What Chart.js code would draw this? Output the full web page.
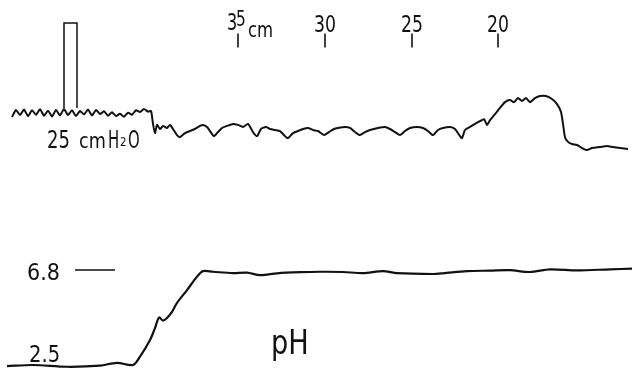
<!DOCTYPE html>
<html><head><meta charset="utf-8">
<script src="https://cdn.jsdelivr.net/npm/chart.js@4.4.1/dist/chart.umd.min.js"></script>
<style>html,body{margin:0;padding:0;background:#fff}canvas{display:block}</style>
</head><body>
<canvas id="c" width="632" height="370"></canvas>
<script>
// Pressure trace (time in recorder units, pressure in cmH2O relative to initial baseline)
const timeP = [12,16,20,24,28,32,36,40,44,48,52,56,60,64,68,72,76,80,84,88,92,96,100,104,108,112,116,120,124,128,132,136,140,144,148,151,
 153,155,157,160,163,167,170,173,177,180,185,190,195,200,203,207,210,214,218,222,227,233,238,243,248,253,257,261,266,270,275,280,285,288,293,298,303,308,313,318,324,329,334,338,345,350,355,360,365,370,378,385,390,395,400,405,410,417,423,428,433,438,443,450,455,460,462,465,470,475,480,484,487,490,495,500,505,510,514,518,522,526,530,535,540,546,552,557,561,563,565,568,572,577,582,587,592,600,607,613,620,628];
const pressure = [-1.2,0.9,-0.6,1.0,-0.9,0.8,-0.5,1.1,-0.8,0.7,-1.0,0.9,-0.7,1.2,-0.6,0.8,-0.9,0.6,-0.4,1.0,-0.7,0.9,-0.3,0.5,-0.8,0.2,-0.9,-0.2,-1.1,0.1,-0.5,0.8,0.3,1.2,0.4,0.6,
 -3.2,-5.9,-3.5,-4.7,-3.8,-4.4,-3.5,-4.7,-6.5,-7.1,-5.9,-5.3,-4.7,-3.8,-3.5,-4.1,-5.3,-6.8,-5.6,-4.4,-3.8,-3.2,-3.5,-4.1,-3.2,-5.6,-6.8,-4.7,-4.1,-4.7,-5.0,-5.3,-6.8,-7.4,-5.9,-5.3,-4.7,-4.4,-5.0,-5.3,-6.5,-5.6,-4.7,-4.4,-4.1,-4.4,-5.6,-6.5,-5.6,-5.0,-4.4,-4.1,-4.7,-5.6,-6.5,-5.3,-4.4,-4.1,-4.4,-5.3,-6.5,-5.0,-4.4,-4.1,-4.7,-6.8,-7.4,-5.0,-4.1,-3.2,-2.4,-1.8,-3.5,-2.1,-0.3,1.5,3.2,3.8,3.2,4.4,3.5,4.4,3.2,4.4,5.0,5.0,4.1,2.6,0.3,-3.2,-7.1,-8.5,-9.1,-9.4,-10.3,-10.9,-10.3,-10.0,-9.7,-10.0,-10.3,-10.6];

// Calibration bar: 25 cmH2O
const calTime = [64,64,77,77];
const calPressure = [1.5,26.5,26.5,1.5];

// Depth markers (cm)
const depthLabels = ['35','30','25','20'];
const depthTime = [238,325,412,498];

// pH trace
const timePH = [7,33,67,100,117,133,140,150,155,159,163,167,172,177,187,197,203,213,233,247,260,277,300,320,343,363,383,397,433,443,467,490,510,530,550,577,610,632];
const pHvals = [2.45,2.50,2.42,2.47,2.60,2.50,2.88,3.63,4.17,4.65,4.51,4.63,4.90,5.31,5.89,6.50,6.75,6.72,6.66,6.68,6.57,6.65,6.70,6.72,6.71,6.66,6.75,6.66,6.62,6.65,6.75,6.77,6.79,6.71,6.83,6.78,6.83,6.86];
const pHRefLevel = 6.8;
const pHRefTime = [75,115];

const xy = (xs, ys) => xs.map((x, i) => ({x, y: ys[i]}));
const ink = '#111';

const tickSegs = depthTime.map(t => ({
  data: [{x: t, y: 19.3}, {x: t, y: 23.4}], yAxisID: 'p', showLine: true, borderColor: ink, borderWidth: 1.6, pointRadius: 0
}));

const textPlugin = {
  id: 'texts',
  afterDatasetsDraw(chart) {
    const ctx = chart.ctx, X = chart.scales.x, P = chart.scales.p, H = chart.scales.ph;
    const fam = "'DejaVu Sans',sans-serif";
    function txt(s, x, y, size, sx, align) {
      ctx.save();
      ctx.font = size + 'px ' + fam;
      ctx.fillStyle = ink;
      ctx.textBaseline = 'alphabetic';
      ctx.textAlign = align || 'left';
      ctx.translate(x, y);
      ctx.scale(sx, 1);
      ctx.fillText(s, 0, 0);
      ctx.restore();
    }
    // depth labels above ticks
    depthLabels.forEach((lab, i) => {
      const cx = X.getPixelForValue(depthTime[i]);
      const top = P.getPixelForValue(23.4);
      if (i === 0) {
        txt('3', cx - 11, top - 3, 23, 0.7);
        txt('5', cx - 2, top - 7, 22, 0.7);
        txt('cm', cx + 10, top + 4, 22, 0.75);
      } else {
        txt(lab, cx, top - 1, 23, 0.75, 'center');
      }
    });
    // calibration label
    const cy = P.getPixelForValue(calPressure[0]) + 40;
    const cx0 = X.getPixelForValue(47);
    txt('25', cx0, cy, 24, 0.75);
    txt('cm', cx0 + 32, cy, 22, 0.8);
    txt('H', cx0 + 61, cy, 24, 0.62);
    txt('2', cx0 + 73, cy - 2, 12, 0.85);
    txt('O', cx0 + 81, cy, 24, 0.62);
    // pH labels
    const y68 = H.getPixelForValue(pHRefLevel);
    txt('6.8', X.getPixelForValue(27), y68 + 10, 23, 0.9);
    const y25 = H.getPixelForValue(2.5);
    txt('2.5', X.getPixelForValue(29), y25 - 3, 23, 0.85);
    txt('pH', X.getPixelForValue(271), y25 - 11, 34, 0.8);
  }
};

new Chart(document.getElementById('c'), {
  type: 'scatter',
  data: {
    datasets: [
      {data: xy(timeP, pressure), yAxisID: 'p', showLine: true, borderColor: ink, borderWidth: 2, pointRadius: 0, tension: 0.2},
      {data: xy(calTime, calPressure), yAxisID: 'p', showLine: true, borderColor: ink, borderWidth: 1.5, pointRadius: 0, tension: 0},
      ...tickSegs,
      {data: xy(timePH, pHvals), yAxisID: 'ph', showLine: true, borderColor: ink, borderWidth: 2.2, pointRadius: 0, tension: 0.3},
      {data: xy(pHRefTime, [pHRefLevel, pHRefLevel]), yAxisID: 'ph', showLine: true, borderColor: ink, borderWidth: 1.6, pointRadius: 0}
    ]
  },
  options: {
    responsive: false,
    animation: false,
    layout: {padding: 0},
    plugins: {legend: {display: false}, tooltip: {enabled: false}},
    scales: {
      x: {type: 'linear', min: 0, max: 632, display: false},
      p: {type: 'linear', min: -75.59, max: 33.24, display: false},
      ph: {type: 'linear', min: 2.274, max: 19.02, display: false}
    }
  },
  plugins: [textPlugin]
});
</script>
</body></html>
